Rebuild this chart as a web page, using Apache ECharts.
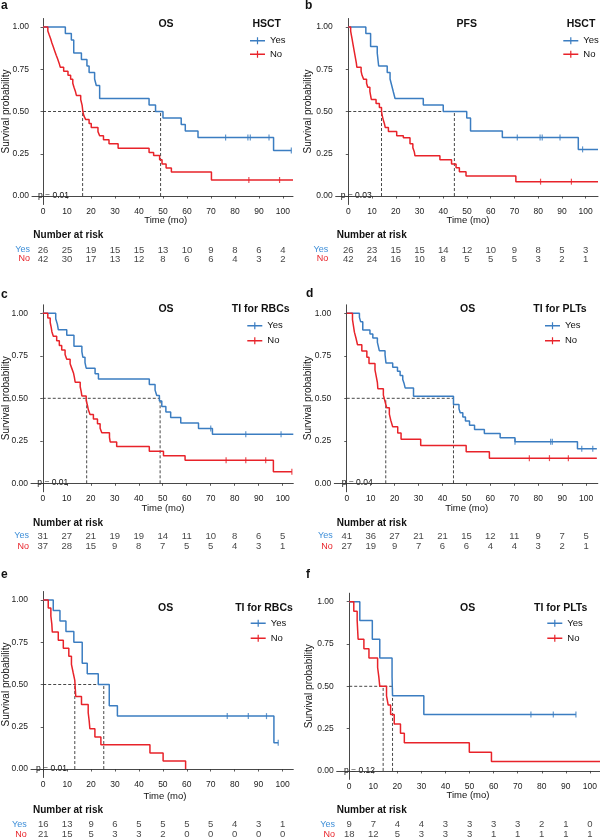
<!DOCTYPE html>
<html>
<head>
<meta charset="utf-8">
<script src="https://cdn.jsdelivr.net/npm/echarts@6/dist/echarts.min.js"></script>
<style>
html, body { margin: 0; padding: 0; background: #fff; }
#chart { width: 600px; height: 838px; }
</style>
</head>
<body>
<div id="chart"></div>
<script>
// tick labels
const X_TICKS = [0, 10, 20, 30, 40, 50, 60, 70, 80, 90, 100]
const Y_TICKS = [0, 0.25, 0.5, 0.75, 1]
const RISK_TIMES = X_TICKS

// panel texts
const TAGS = ['a', 'b', 'c', 'd', 'e', 'f']
const ENDPOINTS = ['OS', 'PFS', 'OS', 'OS', 'OS', 'OS']
const GROUPS = ['HSCT', 'HSCT', 'TI for RBCs', 'TI for PLTs', 'TI for RBCs', 'TI for PLTs']
const P_VALUES = ['p = 0.01', 'p = 0.03', 'p = 0.01', 'p = 0.04', 'p = 0.01', 'p = 0.12']

// a - OS by HSCT   [time, survival]
const aYes = [[0, 1], [9.3, 0.962], [11.8, 0.923], [12.8, 0.846], [16, 0.808], [18.3, 0.769], [19.2, 0.731], [21.5, 0.692], [22.2, 0.654], [23.6, 0.577], [44.2, 0.538], [46.9, 0.5], [50, 0.462], [57.6, 0.423], [59.3, 0.385], [64.6, 0.346], [96.1, 0.27], [103.5, 0.27]]
const aYesCens = [76.1, 85.4, 86.4, 94.2, 103.5]
const aNo = [[0, 1], [2, 0.976], [2.6, 0.952], [3.2, 0.929], [3.7, 0.905], [4.3, 0.881], [4.9, 0.857], [5.5, 0.833], [6.1, 0.81], [6.7, 0.786], [7.2, 0.762], [8.6, 0.738], [10.4, 0.714], [11.5, 0.69], [12.4, 0.667], [12.9, 0.643], [13.5, 0.619], [13.9, 0.595], [15.7, 0.571], [16.3, 0.536], [16.6, 0.5], [17, 0.476], [17.8, 0.452], [19.2, 0.429], [20.1, 0.405], [22.9, 0.381], [23.6, 0.357], [25.2, 0.333], [27.5, 0.309], [31.3, 0.283], [44.2, 0.258], [46.1, 0.24], [48.6, 0.215], [49.6, 0.19], [51.3, 0.166], [53.5, 0.142], [70.2, 0.095], [104.2, 0.095]]
const aNoCens = [85.8, 98.6]
const aMedian = [16.5, 49]
const aRiskYes = [26, 25, 19, 15, 15, 13, 10, 9, 8, 6, 4]
const aRiskNo = [42, 30, 17, 13, 12, 8, 6, 6, 4, 3, 2]

// b - PFS by HSCT
const bYes = [[0, 1], [7.4, 0.962], [9.4, 0.885], [12.2, 0.846], [12.8, 0.769], [16.4, 0.731], [17.6, 0.692], [18.3, 0.654], [19, 0.615], [19.7, 0.577], [31.6, 0.538], [40, 0.5], [49.9, 0.462], [51.5, 0.385], [64.9, 0.346], [96.9, 0.276], [105.2, 0.276]]
const bYesCens = [71.2, 80.8, 81.7, 89.2, 98.7]
const bNo = [[0, 1], [1, 0.976], [1.3, 0.952], [1.6, 0.929], [1.9, 0.905], [2.2, 0.881], [2.5, 0.857], [2.8, 0.833], [3.1, 0.81], [3.4, 0.786], [3.6, 0.762], [5.4, 0.738], [5.8, 0.714], [6.5, 0.69], [7.7, 0.667], [8.2, 0.643], [9.1, 0.619], [9.4, 0.595], [9.7, 0.571], [11.7, 0.548], [13.1, 0.524], [14, 0.5], [14.3, 0.476], [14.7, 0.452], [15.2, 0.429], [15.6, 0.405], [16.9, 0.381], [20.4, 0.357], [23.2, 0.345], [26, 0.31], [27.2, 0.286], [27.8, 0.262], [28.1, 0.238], [38.6, 0.214], [43.5, 0.19], [45.4, 0.167], [46.8, 0.143], [49.6, 0.119], [70.6, 0.085], [105.2, 0.085]]
const bNoCens = [81, 94]
const bMedian = [14, 44.7]
const bRiskYes = [26, 23, 15, 15, 14, 12, 10, 9, 8, 5, 3]
const bRiskNo = [42, 24, 16, 10, 8, 5, 5, 5, 3, 2, 1]

// c - OS by TI for RBCs
const cYes = [[0, 1], [5.4, 0.968], [6.1, 0.935], [6.5, 0.903], [10, 0.871], [13, 0.806], [16.3, 0.774], [16.7, 0.742], [17.6, 0.71], [18.1, 0.677], [21.8, 0.645], [23.2, 0.613], [44.4, 0.581], [46.8, 0.548], [47.5, 0.516], [48.6, 0.484], [49.6, 0.452], [51.3, 0.419], [53.3, 0.387], [57.5, 0.355], [64.9, 0.323], [70.7, 0.289], [104.4, 0.289]]
const cYesCens = [70, 84.6, 99.3]
const cNo = [[0, 1], [2.1, 0.973], [3.1, 0.946], [3.5, 0.919], [3.8, 0.892], [4.4, 0.865], [5.8, 0.838], [6.9, 0.811], [7.9, 0.784], [9.3, 0.757], [10, 0.73], [11.4, 0.703], [12.1, 0.676], [12.8, 0.649], [13.2, 0.622], [13.5, 0.595], [15.6, 0.568], [16, 0.541], [16.3, 0.514], [18.1, 0.486], [18.6, 0.459], [19, 0.432], [19.7, 0.405], [21.1, 0.378], [22.8, 0.351], [23.9, 0.324], [24.6, 0.297], [27.8, 0.27], [28.1, 0.243], [30.8, 0.216], [44.4, 0.189], [50.3, 0.162], [59.3, 0.135], [96.1, 0.068], [103.8, 0.068]]
const cNoCens = [76.4, 84.6, 92.9, 103.8]
const cMedian = [18.3, 48.9]
const cRiskYes = [31, 27, 21, 19, 19, 14, 11, 10, 8, 6, 5]
const cRiskNo = [37, 28, 15, 9, 8, 7, 5, 5, 4, 3, 1]

// d - OS by TI for PLTs
const dYes = [[0, 1], [5.3, 0.976], [5.8, 0.951], [6.7, 0.902], [9.7, 0.878], [10.9, 0.854], [12.8, 0.829], [13.2, 0.805], [13.6, 0.78], [16, 0.756], [16.4, 0.707], [19.2, 0.683], [21.2, 0.659], [22.3, 0.634], [23.4, 0.61], [24, 0.585], [24.4, 0.561], [27.9, 0.512], [44.6, 0.463], [46.9, 0.439], [47.4, 0.415], [48.5, 0.39], [49.6, 0.366], [51.3, 0.341], [53.4, 0.317], [57.5, 0.293], [64.1, 0.268], [70.3, 0.244], [96.4, 0.203], [104.5, 0.203]]
const dYesCens = [70.3, 85.2, 85.9, 98.2, 102.8]
const dNo = [[0, 1], [2.4, 0.963], [2.8, 0.926], [3.2, 0.889], [3.9, 0.852], [4.5, 0.815], [6.3, 0.778], [8.4, 0.741], [9.3, 0.704], [11.8, 0.667], [12.3, 0.63], [12.8, 0.593], [13, 0.556], [15.3, 0.519], [16, 0.481], [16.7, 0.444], [17.8, 0.407], [18.4, 0.37], [19.2, 0.333], [21.3, 0.296], [22.7, 0.259], [30.9, 0.222], [49.9, 0.185], [59.6, 0.148], [104.5, 0.148]]
const dNoCens = [76.3, 84.7, 92.6]
const dMedian = [16.3, 44.6]
const dRiskYes = [41, 36, 27, 21, 21, 15, 12, 11, 9, 7, 5]
const dRiskNo = [27, 19, 9, 7, 6, 6, 4, 4, 3, 2, 1]

// e - OS by TI for RBCs (subgroup)
const eYes = [[0, 1], [4.2, 0.938], [7, 0.875], [9.5, 0.813], [12.8, 0.75], [16.3, 0.625], [18.4, 0.563], [23, 0.5], [27.6, 0.375], [31, 0.313], [96.4, 0.156], [98.2, 0.156]]
const eYesCens = [76.9, 85.7, 93.3, 98.2]
const eNo = [[0, 1], [2.1, 0.952], [3.2, 0.905], [3.6, 0.857], [3.8, 0.81], [6.3, 0.762], [8.4, 0.714], [10.7, 0.667], [11.8, 0.619], [12.5, 0.571], [13.2, 0.524], [13.4, 0.476], [13.6, 0.429], [16, 0.381], [18.8, 0.333], [19.2, 0.286], [19.5, 0.238], [21.6, 0.19], [24.1, 0.143], [44.6, 0.095], [50.1, 0.048], [59.5, 0]]
const eNoCens = []
const eMedian = [13.2, 25.3]
const eRiskYes = [16, 13, 9, 6, 5, 5, 5, 5, 4, 3, 1]
const eRiskNo = [21, 15, 5, 3, 3, 2, 0, 0, 0, 0, 0]

// f - OS by TI for PLTs (subgroup)
const fYes = [[0, 1], [4.4, 0.889], [9.6, 0.778], [12.7, 0.667], [17.8, 0.556], [18, 0.444], [31, 0.333], [94.2, 0.333]]
const fYesCens = [75.5, 84.8, 94.2]
const fNo = [[0, 1], [1.9, 0.944], [3.3, 0.889], [3.7, 0.778], [6.1, 0.722], [8.2, 0.667], [11.8, 0.611], [12.3, 0.556], [12.7, 0.5], [15.5, 0.444], [16.2, 0.389], [17.2, 0.333], [18.7, 0.278], [21.3, 0.222], [22.9, 0.167], [49.9, 0.111], [59.1, 0.056], [104.2, 0.056]]
const fNoCens = []
const fMedian = [14.1, 18]
const fRiskYes = [9, 7, 4, 4, 3, 3, 3, 3, 2, 1, 0]
const fRiskNo = [18, 12, 5, 3, 3, 3, 1, 1, 1, 1, 1]

const PANELS = [
  { yes: aYes, no: aNo, yesC: aYesCens, noC: aNoCens, med: aMedian, rYes: aRiskYes, rNo: aRiskNo },
  { yes: bYes, no: bNo, yesC: bYesCens, noC: bNoCens, med: bMedian, rYes: bRiskYes, rNo: bRiskNo },
  { yes: cYes, no: cNo, yesC: cYesCens, noC: cNoCens, med: cMedian, rYes: cRiskYes, rNo: cRiskNo },
  { yes: dYes, no: dNo, yesC: dYesCens, noC: dNoCens, med: dMedian, rYes: dRiskYes, rNo: dRiskNo },
  { yes: eYes, no: eNo, yesC: eYesCens, noC: eNoCens, med: eMedian, rYes: eRiskYes, rNo: eRiskNo },
  { yes: fYes, no: fNo, yesC: fYesCens, noC: fNoCens, med: fMedian, rYes: fRiskYes, rNo: fRiskNo }
]

// layout (pixels)
const LAYOUT = [
  { left: 32, top: 18.5, w: 261, h: 186, xmin: -4.6, xmax: 104.2, rYes: 250, rSp: 9, rMargin: 2, nar: [33.3, 235.7], time: [165.7, 220], ylab: [6, 111.5], tag: [1, 6], title: [166, 24.3], legT: [266.7, 24.3], leg: [250, 40.7, 13.6], p: [38, 195.5] },
  { left: 335.7, top: 18.5, w: 262.3, h: 186, xmin: -5.3, xmax: 105.2, rYes: 250, rSp: 9, rMargin: 7.5, nar: [336.7, 235.7], time: [468, 220], ylab: [308.3, 111.5], tag: [305, 6], title: [466.7, 24.3], legT: [581, 24.3], leg: [563.3, 40.7, 13.6], p: [340.7, 196] },
  { left: 31, top: 304.8, w: 262.3, h: 187, xmin: -4.9, xmax: 104.4, rYes: 536, rSp: 10.5, rMargin: 2, nar: [33, 523.3], time: [163, 508.3], ylab: [6, 398.3], tag: [1, 295], title: [166, 309.3], legT: [260.7, 309.3], leg: [247.3, 325.7, 15], p: [37.3, 482.7] },
  { left: 334.3, top: 304.8, w: 263.5, h: 187, xmin: -5.2, xmax: 104.9, rYes: 536, rSp: 10.5, rMargin: 1.5, nar: [336.7, 523.3], time: [466.7, 508.3], ylab: [308, 398.3], tag: [306, 294], title: [467.7, 309.3], legT: [560, 309.3], leg: [545, 325.7, 15], p: [341.7, 482.7] },
  { left: 31, top: 591.5, w: 262.3, h: 186, xmin: -5.1, xmax: 104.5, rYes: 824.3, rSp: 10, rMargin: 4.3, nar: [33, 810.7], time: [165, 796], ylab: [6, 684.5], tag: [1, 575], title: [165.7, 608.3], legT: [264, 608.3], leg: [250.7, 623.3, 15], p: [36, 769] },
  { left: 336.7, top: 593.2, w: 263.3, h: 186.2, xmin: -5.2, xmax: 104.2, rYes: 824.3, rSp: 10, rMargin: 1.7, nar: [336.7, 810.7], time: [468, 795], ylab: [309, 686.3], tag: [306, 575], title: [467.7, 608.3], legT: [560.7, 608.3], leg: [547.3, 623.3, 15], p: [344, 771] }
]

const BLUE = '#3B7DC1'
const RED = '#E8232A'
const FONT = "'Liberation Sans', Arial, Helvetica, sans-serif"
const AXIS_COLOR = '#333'
const LEGEND_ICON = 'path://M0,2.8H15V4.2H0ZM6.9,0H8.1V7H6.9Z'

function survAt(curve, t) {
  let s = curve[0][1]
  curve.forEach(p => { if (p[0] <= t) s = p[1] })
  return s
}

const grid = []
const xAxis = []
const yAxis = []
const series = []
const legend = []
const graphic = []

function text(x, y, str, opts) {
  const o = opts || {}
  const align = o.align || 'left'
  return {
    type: 'text',
    x: x,
    y: y,
    rotation: o.rotation || 0,
    silent: true,
    style: {
      text: str,
      fill: o.color || '#111',
      font: (o.bold ? 'bold ' : '') + (o.size || 9) + 'px ' + FONT,
      align: align,
      textAlign: align,
      verticalAlign: 'middle',
      textVerticalAlign: 'middle'
    }
  }
}

// plot grids 0..5
LAYOUT.forEach((L, i) => {
  grid.push({ left: L.left, top: L.top, width: L.w, height: L.h, containLabel: false, outerBoundsMode: 'none' })
  xAxis.push({
    type: 'value', gridIndex: i, min: L.xmin, max: L.xmax,
    axisLine: { lineStyle: { color: AXIS_COLOR, width: 0.9 } },
    axisTick: { customValues: X_TICKS, length: 2.5, lineStyle: { color: AXIS_COLOR, width: 0.8 } },
    axisLabel: { customValues: X_TICKS, margin: 2.5, fontSize: 8.5, color: '#222', fontFamily: FONT },
    splitLine: { show: false }
  })
  yAxis.push({
    type: 'value', gridIndex: i, min: -0.05, max: 1.05,
    axisLine: { show: true, lineStyle: { color: AXIS_COLOR, width: 0.9 } },
    axisTick: { show: true, customValues: Y_TICKS, length: 2.5, lineStyle: { color: AXIS_COLOR, width: 0.8 } },
    axisLabel: { customValues: Y_TICKS, margin: 3, fontSize: 8.5, color: '#222', fontFamily: FONT, formatter: v => v.toFixed(2) },
    splitLine: { show: false }
  })
})

// risk table grids 6..11
LAYOUT.forEach((L, i) => {
  grid.push({ left: L.left, top: L.rYes - L.rSp / 2, width: L.w, height: L.rSp * 2, containLabel: false, outerBoundsMode: 'none' })
  xAxis.push({ type: 'value', gridIndex: 6 + i, min: L.xmin, max: L.xmax, show: false })
  yAxis.push({
    type: 'category', gridIndex: 6 + i, data: ['No', 'Yes'],
    axisLine: { show: false }, axisTick: { show: false }, splitLine: { show: false },
    axisLabel: { interval: 0, hideOverlap: false, margin: L.rMargin, fontSize: 9, fontFamily: FONT, color: v => (v === 'Yes' ? '#3F8FD8' : RED) }
  })
})

// curves first so legends pick them up
PANELS.forEach((P, i) => {
  [['Yes', P.yes, BLUE], ['No', P.no, RED]].forEach(([name, curve, col]) => {
    series.push({
      type: 'line', name: name, xAxisIndex: i, yAxisIndex: i, data: curve,
      step: 'end', symbol: 'none', color: col, z: 4,
      lineStyle: { color: col, width: 1.5 }, silent: true, animation: false
    })
  })
})

PANELS.forEach((P, i) => {
  [['Yes', P.yes, P.yesC, BLUE], ['No', P.no, P.noC, RED]].forEach(([name, curve, cens, col]) => {
    series.push({
      type: 'scatter', name: name, xAxisIndex: i, yAxisIndex: i,
      data: cens.map(t => [t, survAt(curve, t)]),
      symbol: 'rect', symbolSize: [1.2, 6], itemStyle: { color: col }, z: 5, silent: true, animation: false
    })
  })
  // median lines
  const mMax = Math.max(...P.med)
  const segs = [[[0, 0.5], [mMax, 0.5]]].concat(P.med.map(m => [[m, 0], [m, 0.5]]))
  segs.forEach(seg => {
    series.push({
      type: 'line', name: 'median', xAxisIndex: i, yAxisIndex: i, data: seg, symbol: 'none', z: 3,
      lineStyle: { color: '#333', width: 0.9, type: [3, 2] }, silent: true, animation: false
    })
  })
  // risk table
  ;[['Yes', P.rYes], ['No', P.rNo]].forEach(([row, vals]) => {
    series.push({
      type: 'scatter', name: 'risk', xAxisIndex: 6 + i, yAxisIndex: 6 + i,
      data: RISK_TIMES.map((t, k) => [t, row, vals[k]]),
      symbol: 'circle', symbolSize: 1, itemStyle: { color: 'rgba(0,0,0,0)' },
      label: { show: true, position: 'inside', formatter: p => String(p.data[2]), fontSize: 9.5, color: '#111', fontFamily: FONT },
      silent: true, animation: false
    })
  })
})

LAYOUT.forEach((L, i) => {
  legend.push({
    orient: 'vertical', left: L.leg[0], top: L.leg[1] - 5, padding: 0,
    itemWidth: 15, itemHeight: 7, itemGap: L.leg[2] - 10, icon: LEGEND_ICON,
    itemStyle: { borderWidth: 0 }, selectedMode: false, data: ['Yes', 'No'],
    textStyle: { fontSize: 9.5, lineHeight: 10, color: '#111', fontFamily: FONT }
  })
  graphic.push(text(L.tag[0], L.tag[1], TAGS[i], { bold: true, size: 12 }))
  graphic.push(text(L.title[0], L.title[1], ENDPOINTS[i], { bold: true, size: 10.5, align: 'center' }))
  graphic.push(text(L.legT[0], L.legT[1], GROUPS[i], { bold: true, size: 10.5, align: 'center' }))
  graphic.push(text(L.ylab[0], L.ylab[1], 'Survival probability', { size: 10, align: 'center', rotation: Math.PI / 2 }))
  graphic.push(text(L.time[0], L.time[1], 'Time (mo)', { size: 9.5, align: 'center' }))
  graphic.push(text(L.nar[0], L.nar[1], 'Number at risk', { bold: true, size: 10 }))
  graphic.push(text(L.p[0], L.p[1], P_VALUES[i], { size: 8.5 }))
})

const chart = echarts.init(document.getElementById('chart'), null, { renderer: 'canvas' })
chart.setOption({
  animation: false,
  backgroundColor: '#fff',
  textStyle: { fontFamily: FONT },
  grid: grid,
  xAxis: xAxis,
  yAxis: yAxis,
  legend: legend,
  graphic: graphic,
  series: series
})
</script>
</body>
</html>
